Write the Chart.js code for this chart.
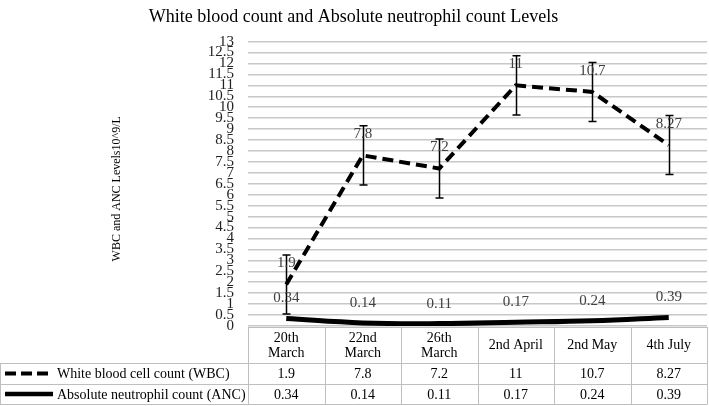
<!DOCTYPE html>
<html>
<head>
<meta charset="utf-8">
<script src="https://cdn.jsdelivr.net/npm/chart.js@4.4.1/dist/chart.umd.min.js"></script>
<style>
  html, body { margin: 0; padding: 0; background: #ffffff; }
  #wrap { width: 709px; height: 406px; position: relative; }
</style>
</head>
<body>
<div id="wrap"><canvas id="c" width="709" height="406"></canvas></div>
<script>
// ---- data ----
const categories = [['20th', 'March'], ['22nd', 'March'], ['26th', 'March'], '2nd April', '2nd May', '4th July'];
const wbcName = 'White blood cell count (WBC)';
const ancName = 'Absolute neutrophil count (ANC)';
const wbcValues = [1.9, 7.8, 7.2, 11, 10.7, 8.27];
const ancValues = [0.34, 0.14, 0.11, 0.17, 0.24, 0.39];
const wbcErrors = [1.35, 1.35, 1.35, 1.35, 1.35, 1.35];
const wbcLabels = ['1.9', '7.8', '7.2', '11', '10.7', '8.27'];
const ancLabels = ['0.34', '0.14', '0.11', '0.17', '0.24', '0.39'];
const yMin = 0, yMax = 13, yStep = 0.5;
const chartTitle = 'White blood count and Absolute neutrophil count Levels';
const yTitle = 'WBC and ANC Levels10^9/L';

const SERIF = "'Liberation Serif', 'Times New Roman', serif";
Chart.defaults.font.family = SERIF;

const extras = {
  id: 'extras',
  afterDatasetsDraw(chart) {
    const ctx = chart.ctx;
    const x = chart.scales.x, y = chart.scales.y;
    ctx.save();
    // error bars on WBC
    ctx.strokeStyle = '#000';
    ctx.lineWidth = 1.5;
    wbcValues.forEach((v, i) => {
      const px = Math.round(x.getPixelForValue(i)) + 0.5;
      const top = y.getPixelForValue(v + wbcErrors[i]);
      const bot = y.getPixelForValue(v - wbcErrors[i]);
      ctx.beginPath();
      ctx.moveTo(px, top); ctx.lineTo(px, bot);
      ctx.moveTo(px - 4, top); ctx.lineTo(px + 4, top);
      ctx.moveTo(px - 4, bot); ctx.lineTo(px + 4, bot);
      ctx.stroke();
    });
    // data labels
    ctx.fillStyle = '#404040';
    ctx.font = '15px ' + SERIF;
    ctx.textAlign = 'center';
    ctx.textBaseline = 'middle';
    wbcValues.forEach((v, i) => {
      ctx.fillText(wbcLabels[i], x.getPixelForValue(i), y.getPixelForValue(v) - 21);
    });
    ancValues.forEach((v, i) => {
      ctx.fillText(ancLabels[i], x.getPixelForValue(i), y.getPixelForValue(v) - 20);
    });
    ctx.restore();
  },
  afterDraw(chart) {
    const ctx = chart.ctx;
    const x = chart.scales.x;
    const area = chart.chartArea;
    const colW = x.getPixelForValue(1) - x.getPixelForValue(0);
    const bounds = [];
    for (let i = 0; i <= categories.length; i++) bounds.push(x.getPixelForValue(0) - colW / 2 + i * colW);
    const yHeadTop = area.bottom + 1;
    const yRow1 = area.bottom + 37;
    const yRow2 = area.bottom + 58;
    const yRow3 = area.bottom + 78;
    ctx.save();
    // y-axis title
    ctx.fillStyle = '#000';
    ctx.font = '12px ' + SERIF;
    ctx.textAlign = 'center';
    ctx.textBaseline = 'middle';
    ctx.translate(117, (area.top + area.bottom) / 2 + 5);
    ctx.rotate(-Math.PI / 2);
    ctx.fillText(yTitle, 0, 0);
    ctx.setTransform(1, 0, 0, 1, 0, 0);

    ctx.strokeStyle = '#bfbfbf';
    ctx.lineWidth = 1;
    ctx.beginPath();
    const h = (yy, x0, x1) => { ctx.moveTo(x0, Math.round(yy) + 0.5); ctx.lineTo(x1, Math.round(yy) + 0.5); };
    const v = (xx, y0, y1) => { ctx.moveTo(Math.round(xx) + 0.5, y0); ctx.lineTo(Math.round(xx) + 0.5, y1); };
    h(yHeadTop, bounds[0], bounds[bounds.length - 1]);
    h(yRow1, 0, bounds[bounds.length - 1]);
    h(yRow2, 0, bounds[bounds.length - 1]);
    h(yRow3, 0, bounds[bounds.length - 1]);
    bounds.forEach(b => v(Math.min(b, chart.width - 2), yHeadTop, yRow3 + 0.5));
    v(0, yRow1, yRow3 + 0.5);
    ctx.stroke();

    ctx.fillStyle = '#000';
    ctx.font = '14px ' + SERIF;
    ctx.textAlign = 'center';
    ctx.textBaseline = 'middle';
    categories.forEach((c, i) => {
      const cx = x.getPixelForValue(i);
      if (Array.isArray(c)) {
        ctx.fillText(c[0], cx, yHeadTop + 11);
        ctx.fillText(c[1], cx, yHeadTop + 26);
      } else {
        ctx.fillText(c, cx, yHeadTop + 18);
      }
      ctx.fillText(wbcLabels[i], cx, (yRow1 + yRow2) / 2 + 1);
      ctx.fillText(ancLabels[i], cx, (yRow2 + yRow3) / 2 + 1);
    });
    // legend keys + names
    const r1 = (yRow1 + yRow2) / 2, r2 = (yRow2 + yRow3) / 2;
    ctx.strokeStyle = '#000';
    ctx.lineWidth = 4;
    ctx.setLineDash([11, 5]);
    ctx.beginPath(); ctx.moveTo(5, r1); ctx.lineTo(48, r1); ctx.stroke();
    ctx.setLineDash([]);
    ctx.lineWidth = 4.5;
    ctx.beginPath(); ctx.moveTo(5, r2); ctx.lineTo(53, r2); ctx.stroke();
    ctx.textAlign = 'left';
    ctx.fillText(wbcName, 57, r1 + 1);
    ctx.fillText(ancName, 57, r2 + 1);
    ctx.restore();
  }
};

new Chart(document.getElementById('c'), {
  type: 'line',
  data: {
    labels: categories,
    datasets: [
      {
        label: wbcName,
        data: wbcValues,
        borderColor: '#000',
        borderWidth: 4,
        borderDash: [11, 6],
        pointRadius: 0,
        tension: 0,
        fill: false
      },
      {
        label: ancName,
        data: ancValues,
        borderColor: '#000',
        borderWidth: 5,
        pointRadius: 0,
        tension: 0.4,
        fill: false
      }
    ]
  },
  options: {
    responsive: false,
    animation: false,
    layout: { padding: { top: 0, bottom: 80, left: 0, right: 2 } },
    plugins: {
      legend: { display: false },
      tooltip: { enabled: false },
      title: {
        display: true,
        text: chartTitle,
        color: '#000',
        font: { family: SERIF, size: 18, weight: 'normal' },
        padding: { top: 6, bottom: 14 }
      }
    },
    scales: {
      x: {
        display: false,
        offset: true
      },
      y: {
        min: yMin,
        max: yMax,
        afterFit(scale) { scale.width = 248; },
        border: { display: false },
        grid: { color: '#c8c8c8', lineWidth: 1.5, drawTicks: false },
        ticks: {
          stepSize: yStep,
          autoSkip: false,
          padding: 14,
          color: '#222',
          font: { family: SERIF, size: 15 },
          callback: (val) => String(Math.round(val * 10) / 10)
        }
      }
    }
  },
  plugins: [extras]
});
</script>
</body>
</html>
